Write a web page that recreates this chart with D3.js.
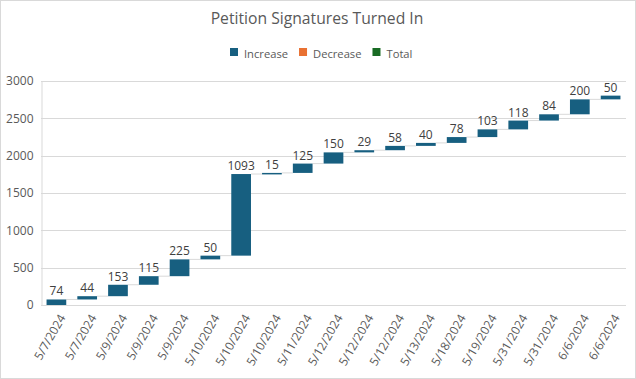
<!DOCTYPE html>
<html><head><meta charset="utf-8">
<script src="https://cdn.jsdelivr.net/npm/d3@7"></script>
<style>body{margin:0;background:#fff}svg{display:block}text{font-family:"Open Sans","Noto Sans",sans-serif}</style>
</head><body><svg id="c" width="636" height="379"></svg>
<script>
const categories=["5/7/2024","5/7/2024","5/9/2024","5/9/2024","5/9/2024","5/10/2024","5/10/2024","5/10/2024","5/11/2024","5/12/2024","5/12/2024","5/12/2024","5/13/2024","5/18/2024","5/19/2024","5/31/2024","5/31/2024","6/6/2024","6/6/2024"];
const values=[74,44,153,115,225,50,1093,15,125,150,29,58,40,78,103,118,84,200,50];
const yTicks=[0,500,1000,1500,2000,2500,3000];
const legendItems=[["Increase","#175f80"],["Decrease","#e97132"],["Total","#196b24"]];
const title="Petition Signatures Turned In";

const svg=d3.select("#c");
svg.append("rect").attr("x",0.5).attr("y",0.5).attr("width",635).attr("height",378).attr("fill","#fff").attr("stroke","#d9d9d9");
const m={l:41,r:626,t:81,b:305};
const x=d3.scaleBand().domain(d3.range(values.length)).range([m.l,m.r]).paddingInner(0.36).paddingOuter(0.18);
const y=d3.scaleLinear().domain([0,3000]).range([m.b,m.t]);
let cum=0;const data=values.map((v,i)=>{const s=cum;cum+=v;return{i,start:s,end:cum,v};});

// gridlines
svg.append("g").selectAll("line").data(yTicks.filter(d=>d>0)).join("line")
 .attr("x1",m.l).attr("x2",m.r).attr("y1",d=>Math.round(y(d))+0.5).attr("y2",d=>Math.round(y(d))+0.5).attr("stroke","#d9d9d9");
// y axis
const ya=svg.append("g").attr("transform",`translate(${m.l+0.5},0)`).call(d3.axisLeft(y).tickValues(yTicks).tickFormat(d3.format("d")).tickSize(0).tickPadding(8));
ya.select(".domain").attr("stroke","#d9d9d9");
ya.selectAll("text").attr("fill","#595959").attr("font-size","12px").attr("font-family","'Open Sans',sans-serif");
// x axis
const xa=svg.append("g").attr("transform",`translate(0,${Math.round(y(0))+0.5})`).call(d3.axisBottom(x).tickFormat(i=>categories[i]).tickSize(0).tickPadding(0));
xa.select(".domain").attr("stroke","#d9d9d9").attr("d",`M${m.l},0H${m.r}`);
xa.selectAll("text").attr("fill","#595959").attr("font-size","12px").attr("font-family","'Open Sans',sans-serif")
 .attr("text-anchor","end").attr("dy","0.35em").attr("transform","translate(6,10) rotate(-60)");
// connectors
svg.append("g").selectAll("line").data(data.slice(0,-1)).join("line")
 .attr("x1",d=>x(d.i)+x.bandwidth()).attr("x2",d=>x(d.i+1)).attr("y1",d=>y(d.end)).attr("y2",d=>y(d.end)).attr("stroke","#d9d9d9").attr("stroke-width",1);
// bars
svg.append("g").selectAll("rect").data(data).join("rect")
 .attr("x",d=>x(d.i)).attr("width",x.bandwidth()).attr("y",d=>y(d.end)).attr("height",d=>Math.max(1.5,y(d.start)-y(d.end))).attr("fill","#175f80");
// labels
svg.append("g").selectAll("text").data(data).join("text")
 .attr("x",d=>x(d.i)+x.bandwidth()/2).attr("y",d=>y(d.end)-4).attr("text-anchor","middle")
 .attr("fill","#404040").attr("font-size","12px").text(d=>d.v);
// title
svg.append("text").attr("x",317).attr("y",24).attr("text-anchor","middle").attr("fill","#595959").attr("font-size","15.7px").attr("font-family","Lato,sans-serif").text(title);
// legend
const lg=svg.append("g");
let lx=230;
legendItems.forEach(([t,c])=>{
 lg.append("rect").attr("x",lx).attr("y",48).attr("width",8).attr("height",8).attr("fill",c);
 const tx=lg.append("text").attr("x",lx+14).attr("y",57.5).attr("fill","#595959").attr("font-size","11.2px").attr("font-family","Lato,sans-serif").text(t);
 lx+=14+tx.node().getComputedTextLength()+11;
});
</script></body></html>
